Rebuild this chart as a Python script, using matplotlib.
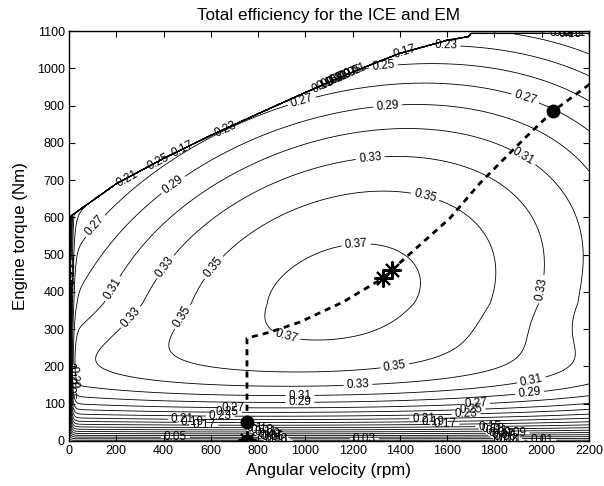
import numpy as np
import matplotlib
matplotlib.use("Agg")
import matplotlib.pyplot as plt

plt.rcParams['font.family'] = ['Liberation Sans', 'DejaVu Sans']

# full load (max torque) curve
wmax_rpm = [0, 200, 400, 600, 800, 1000, 1200, 1400, 1600, 1690, 1700, 2200]
tmax_nm = [600, 690, 758, 820, 878, 935, 990, 1040, 1075, 1085, 1093, 1093]

# operating line and marked points
line_w = [753, 753, 850, 977, 1160, 1329, 1366, 1612, 1739, 1836, 1929, 2048, 2230]
line_t = [51, 276, 292, 319, 373, 437, 459, 598, 692, 754, 813, 885, 970]
dot_w = [753, 753, 2048]
dot_t = [0, 51, 885]
star_w = [753, 1329, 1366]
star_t = [2, 437, 459]

# efficiency map parameters (peak, tilted ridge, curvatures, low load / low speed roll off)
eta_peak = 0.378
t_peak = 370
w_ridge0 = 1150
slope_lo, slope_hi = 1.0, 0.6
a_lo, a_hi, a_mid, a_width = 2.5e-8, 7.0e-8, 250, 50
b_lo, b_hi = 1.0e-7, 3.1e-7
tau_t = 68
tau_w = 8

levels = [0.01, 0.03, 0.05, 0.07, 0.09, 0.11, 0.13, 0.15, 0.17, 0.19,
          0.21, 0.23, 0.25, 0.27, 0.29, 0.31, 0.33, 0.35, 0.37]

# where each level gets its labels (nearest point of that contour is used)
label_pos = {
    0.37: [(1218, 496), (914, 271)],
    0.35: [(1498, 633), (584, 480), (1380, 196), (560, 300)],
    0.33: [(1273, 768), (385, 478), (2022, 405), (1223, 145), (300, 310)],
    0.31: [(1908, 748), (144, 424), (1950, 182), (977, 123)],
    0.29: [(457, 673), (1349, 893), (1950, 125), (977, 100), (15, 170)],
    0.27: [(131, 566), (1003, 872), (1942, 942), (694, 89), (1720, 89)],
    0.25: [(1332, 990), (385, 735), (670, 77), (1700, 77)],
    0.23: [(1595, 1060), (677, 818), (640, 64), (1680, 64)],
    0.21: [(480, 55), (1500, 55), (250, 700), (3, 470)],
    0.19: [(520, 48), (1540, 48), (1080, 945), (3, 450)],
    0.17: [(570, 40), (1590, 40), (512, 746), (1420, 1045), (3, 430)],
    0.15: [(800, 33), (1780, 33), (1100, 950), (2120, 1093)],
    0.13: [(815, 28), (1795, 28), (1120, 955), (3, 400), (3, 180)],
    0.11: [(830, 23), (1810, 23), (1140, 960), (2140, 1093)],
    0.09: [(845, 19), (1825, 19), (1160, 965), (3, 380), (1850, 0)],
    0.07: [(855, 14), (1835, 14), (1180, 970), (2100, 1093)],
    0.05: [(865, 10), (1845, 10), (1200, 975), (3, 360), (3, 140), (450, 0)],
    0.03: [(875, 6), (1855, 6), (2080, 1093), (1250, 0)],
    0.01: [(885, 2), (1865, 2), (1220, 980), (3, 340), (2000, 0)],
}

w = np.linspace(0, 2200, 1101)
T = np.linspace(0, 1100, 1101)
W, TQ = np.meshgrid(w, T)
dT = TQ - t_peak
ridge = w_ridge0 + np.where(dT < 0, slope_lo, slope_hi) * dT
a = a_lo + (a_hi - a_lo) / (1 + np.exp(-(TQ - a_mid) / a_width))
b = np.where(dT < 0, b_lo, b_hi)
eta = eta_peak - a * (W - ridge) ** 2 - b * dT ** 2
eta = eta * (1 - np.exp(-TQ / tau_t)) * (1 - np.exp(-W / tau_w))
eta[TQ > np.interp(W, wmax_rpm, tmax_nm)] = 0
eta = np.clip(eta, 0, None)

fig = plt.figure(figsize=(6.04, 4.86), dpi=100)
ax = fig.add_axes([0.1142, 0.0926, 0.861, 0.8436])

for lev in levels:
    cs = ax.contour(W, TQ, eta, levels=[lev], colors='k', linewidths=0.6)
    ax.clabel(cs, manual=label_pos[lev], fmt='%.2f', fontsize=8.5,
              inline=True, inline_spacing=3)

ax.plot(line_w, line_t, color='k', lw=2, dashes=[2.2, 1.8])
ax.plot(dot_w, dot_t, 'o', color='k', ms=9)
ax.plot(star_w, star_t, marker=(8, 2, 0), ls='none', color='k', ms=13, mew=1.5)

ax.set_xlim(0, 2200)
ax.set_ylim(0, 1100)
ax.set_xticks(np.arange(0, 2201, 200))
ax.set_yticks(np.arange(0, 1101, 100))
ax.tick_params(direction='in', top=True, right=True, labelsize=9, length=4, pad=3)
for s in ax.spines.values():
    s.set_linewidth(1.0)

ax.set_title('Total efficiency for the ICE and EM', fontsize=12.3, pad=8)
ax.set_xlabel('Angular velocity (rpm)', fontsize=12.2, labelpad=4)
ax.set_ylabel('Engine torque (Nm)', fontsize=12.2, labelpad=6)

fig.savefig('out.png', dpi=100)
